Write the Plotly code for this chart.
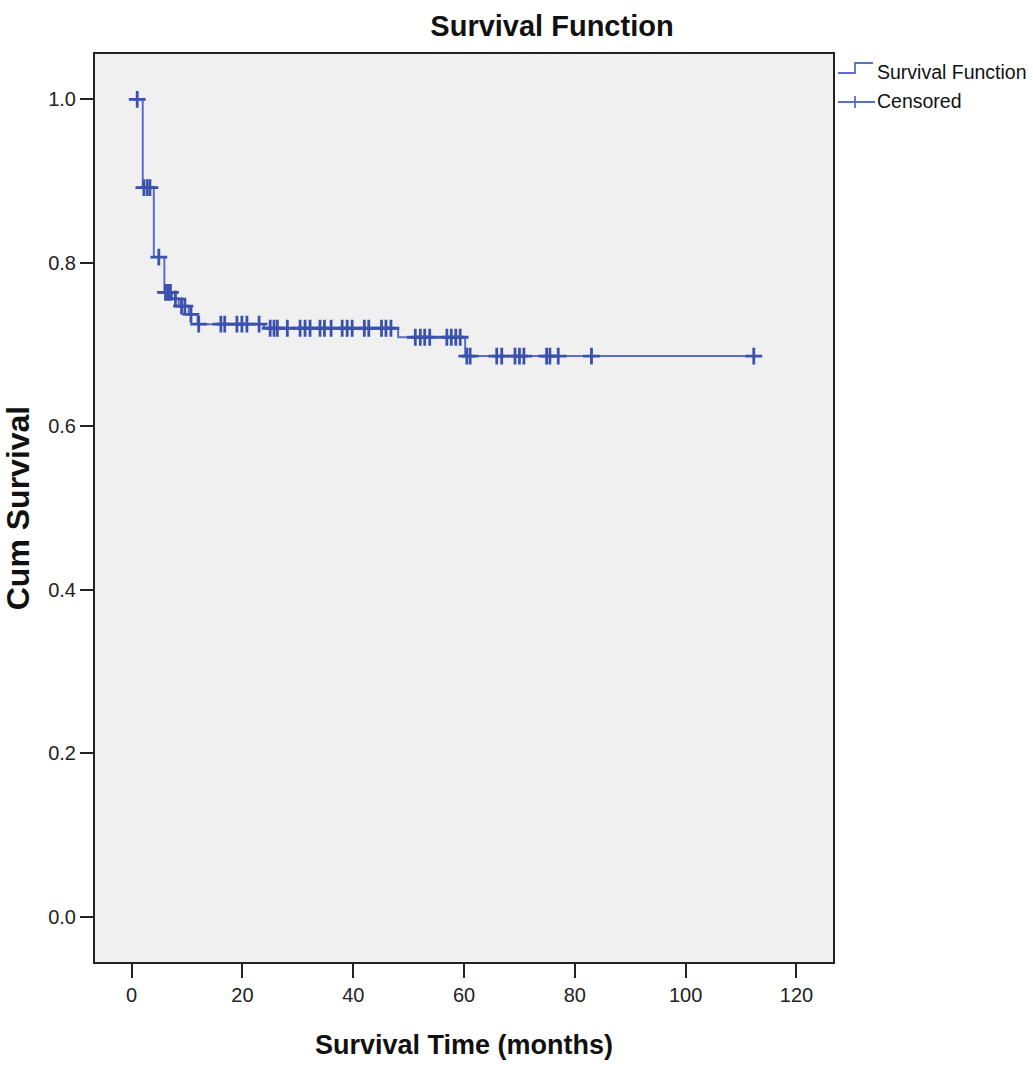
import numpy as np
import plotly.graph_objects as go

# Kaplan-Meier estimate: times (months) where the curve steps, and survival after each step
step_times = [0.0, 2.0, 4.0, 5.9, 7.3, 8.5, 10.3, 11.9, 23.9, 48.1, 60.2]
step_surv = [1.000, 0.892, 0.807, 0.764, 0.756, 0.747, 0.737, 0.725, 0.720, 0.709, 0.686]
last_followup = 112.3

# censored observations (months)
censored_times = [
    1.0,
    2.2, 2.8, 3.3,
    4.9,
    6.1, 6.5, 7.0,
    7.9,
    9.0, 9.6,
    10.7,
    12.1, 16.1, 16.8, 19.0, 19.9, 20.8, 23.0,
    25.0, 25.7, 26.3, 28.1, 30.4, 31.3, 32.2, 34.0, 34.8, 36.0,
    38.0, 38.9, 39.8, 42.0, 42.8, 45.1, 45.9, 46.8,
    51.2, 52.1, 52.9, 53.8, 56.9, 57.7, 58.5, 59.3,
    60.5, 61.1, 65.9, 66.8, 69.2, 70.0, 70.8, 74.9, 75.5, 77.0, 83.0, 112.3,
]

x_ticks = [0, 20, 40, 60, 80, 100, 120]
y_ticks = [0.0, 0.2, 0.4, 0.6, 0.8, 1.0]

LINE_BLUE = "#5a6ec3"
MARK_BLUE = "#3a52ad"
FONT = "Liberation Sans, Arial, sans-serif"

# survival level at each censoring time, looked up on the step function
idx = np.searchsorted(np.array(step_times), np.array(censored_times), side="right") - 1
censored_surv = [step_surv[i] for i in idx]

W, H = 1033, 1068
M_L, M_R, M_T, M_B = 95, 200, 54, 106
PW, PH = W - M_L - M_R, H - M_T - M_B


def px_x(px):
    return (px - M_L) / PW


def px_y(py):
    return (H - M_B - py) / PH


fig = go.Figure()

fig.add_trace(go.Scatter(
    x=step_times + [last_followup],
    y=step_surv + [step_surv[-1]],
    mode="lines",
    line=dict(shape="hv", color=LINE_BLUE, width=2),
    showlegend=False,
    hoverinfo="skip",
))

fig.add_trace(go.Scatter(
    x=censored_times,
    y=censored_surv,
    mode="markers",
    marker=dict(symbol="cross-thin", size=12, line=dict(color=MARK_BLUE, width=2.8)),
    showlegend=False,
))

axis_common = dict(
    showline=True, linecolor="#222222", linewidth=2, mirror=True,
    ticks="outside", tickcolor="#222222", tickwidth=2,
    showgrid=False, zeroline=False,
    tickfont=dict(family=FONT, size=20, color="#222222"),
)

fig.update_layout(
    width=W, height=H,
    margin=dict(l=M_L, r=M_R, t=M_T, b=M_B),
    paper_bgcolor="white",
    plot_bgcolor="#f0f0f0",
    showlegend=False,
    title=dict(
        text="<b>Survival Function</b>",
        font=dict(family=FONT, size=29, color="#111111"),
        xref="paper", x=px_x(552), xanchor="center",
        yref="container", y=1 - 26 / H, yanchor="middle",
    ),
    xaxis=dict(
        range=[-6.62, 126.6], tickvals=x_ticks, ticktext=[str(v) for v in x_ticks],
        ticklen=14,
        title=dict(text="<b>Survival Time (months)</b>",
                   font=dict(family=FONT, size=27, color="#111111"), standoff=30),
        **axis_common,
    ),
    yaxis=dict(
        range=[-0.055, 1.0554], tickvals=y_ticks, ticktext=[f"{v:.1f}" for v in y_ticks],
        ticklen=13,
        title=dict(text="<b>Cum Survival</b>",
                   font=dict(family=FONT, size=32, color="#111111"), standoff=9),
        **axis_common,
    ),
)

# legend drawn in paper space: step glyph + cross glyph with labels
shapes = [
    dict(type="path", xref="paper", yref="paper",
         path=f"M {px_x(838)},{px_y(73)} L {px_x(855)},{px_y(73)} L {px_x(855)},{px_y(63)} L {px_x(873)},{px_y(63)}",
         line=dict(color=LINE_BLUE, width=1.8)),
    dict(type="line", xref="paper", yref="paper",
         x0=px_x(838), x1=px_x(875), y0=px_y(102), y1=px_y(102),
         line=dict(color=LINE_BLUE, width=1.8)),
    dict(type="line", xref="paper", yref="paper",
         x0=px_x(855), x1=px_x(855), y0=px_y(96), y1=px_y(108),
         line=dict(color=LINE_BLUE, width=1.8)),
]
annotations = [
    dict(text="Survival Function", xref="paper", yref="paper",
         x=px_x(875), y=px_y(72), xanchor="left", yanchor="middle", showarrow=False,
         font=dict(family=FONT, size=19.5, color="#111111")),
    dict(text="Censored", xref="paper", yref="paper",
         x=px_x(875), y=px_y(101), xanchor="left", yanchor="middle", showarrow=False,
         font=dict(family=FONT, size=19.5, color="#111111")),
]
fig.update_layout(shapes=shapes, annotations=annotations)

fig.write_html("out.html")
